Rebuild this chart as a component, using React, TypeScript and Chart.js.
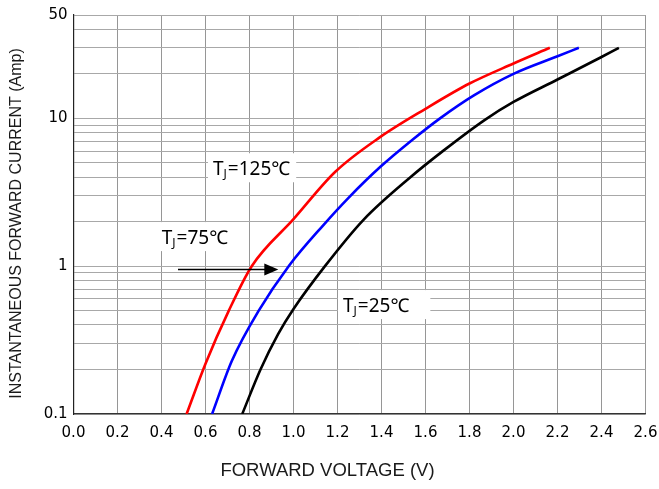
import { useEffect, useRef } from "react";
import { Chart, registerables } from "chart.js";

Chart.register(...registerables);

// ---- data ----
const voltage125 = [0.514, 0.6, 0.706, 0.81, 1.0, 1.19, 1.39, 1.6, 1.8, 2.0, 2.165];
const current125 = [0.1, 0.219, 0.5, 1, 2.08, 4.35, 7.4, 11.6, 17.2, 23.5, 30];

const voltage75 = [0.63, 0.72, 0.842, 0.978, 1.135, 1.25, 1.395, 1.545, 1.666, 1.82, 2.0, 2.2, 2.297];
const current75 = [0.1, 0.229, 0.5, 1, 1.89, 2.9, 4.7, 7.25, 10, 14.3, 20, 26.3, 30];

const voltage25 = [0.767, 0.85, 0.93, 1.0, 1.143, 1.317, 1.53, 1.683, 1.87, 2.0, 2.2, 2.4, 2.479];
const current25 = [0.1, 0.2, 0.347, 0.513, 1, 2.05, 3.98, 6.07, 9.77, 12.9, 18.3, 26.0, 30];

const seriesNames = ["TJ=125℃", "TJ=75℃", "TJ=25℃"];
const seriesColors = ["#ff0000", "#0000ff", "#000000"];

const xMin = 0;
const xMax = 2.6;
const xStep = 0.2;
const yMin = 0.1;
const yMax = 50;
const yGridValues = [
  0.1, 0.2, 0.3, 0.4, 0.5, 0.6, 0.7, 0.8, 0.9,
  1, 2, 3, 4, 5, 6, 7, 8, 9,
  10, 20, 30, 40, 50,
];
const yLabelValues = [0.1, 1, 10, 50];

const xTitle = "FORWARD VOLTAGE (V)";
const yTitle = "INSTANTANEOUS FORWARD CURRENT (Amp)";

// annotation anchors (left / baseline of text) in data units
const annotationTemps = ["125℃", "75℃", "25℃"];
const annotationV = [0.634, 0.401, 1.225];
const annotationI = [4.12, 1.41, 0.489];

// arrow: from V0 to V1 at current I
const arrowV = [0.475, 0.931];
const arrowI = 0.95;

const mainFont = '19px "Noto Sans", "DejaVu Sans", sans-serif';
const subFont = '12px "Noto Sans", "DejaVu Sans", sans-serif';
const boxRightPad = [6, 18, 21];

const toPoints = (xs: number[], ys: number[]) => xs.map((v, i) => ({ x: v, y: ys[i] }));

const annotationPlugin = {
  id: "annotationPlugin",
  beforeDatasetsDraw(chart: any) {
    const { ctx, scales } = chart;
    const xs = scales.x;
    const ys = scales.y;
    ctx.save();
    ctx.textBaseline = "alphabetic";
    ctx.textAlign = "left";
    for (let k = 0; k < annotationTemps.length; k++) {
      const px = xs.getPixelForValue(annotationV[k]);
      const py = ys.getPixelForValue(annotationI[k]);
      ctx.font = mainFont;
      const wT = ctx.measureText("T").width;
      const rest = "=" + annotationTemps[k];
      const wR = ctx.measureText(rest).width;
      ctx.font = subFont;
      const wJ = ctx.measureText("J").width;
      const total = wT + wJ + 1 + wR;
      ctx.fillStyle = "#ffffff";
      ctx.fillRect(px - 5, py - 22, total + 5 + boxRightPad[k], 29);
      ctx.fillStyle = "#000000";
      ctx.font = mainFont;
      ctx.fillText("T", px, py);
      ctx.font = subFont;
      ctx.fillText("J", px + wT, py + 3);
      ctx.font = mainFont;
      ctx.fillText(rest, px + wT + wJ + 1, py);
    }
    ctx.restore();
  },
  afterDatasetsDraw(chart: any) {
    const { ctx, scales } = chart;
    const xs = scales.x;
    const ys = scales.y;
    const x0 = xs.getPixelForValue(arrowV[0]);
    const x1 = xs.getPixelForValue(arrowV[1]);
    const yy = Math.round(ys.getPixelForValue(arrowI)) + 0.5;
    ctx.save();
    ctx.strokeStyle = "#000";
    ctx.fillStyle = "#000";
    ctx.lineWidth = 1.6;
    ctx.beginPath();
    ctx.moveTo(x0, yy);
    ctx.lineTo(x1 - 12, yy);
    ctx.stroke();
    ctx.beginPath();
    ctx.moveTo(x1, yy);
    ctx.lineTo(x1 - 14, yy - 6);
    ctx.lineTo(x1 - 14, yy + 6);
    ctx.closePath();
    ctx.fill();
    ctx.restore();
  },
  afterDraw(chart: any) {
    const { ctx, chartArea } = chart;
    ctx.save();
    ctx.fillStyle = "#1a1a1a";
    ctx.textAlign = "center";
    ctx.textBaseline = "middle";
    ctx.font = '18.5px "Liberation Sans", Arial, sans-serif';
    ctx.fillText(xTitle, chart.width / 2 - 2, 471);
    ctx.translate(17, (chartArea.top + chartArea.bottom) / 2 + 9);
    ctx.rotate(-Math.PI / 2);
    ctx.font = '16px "Liberation Sans", Arial, sans-serif';
    ctx.fillText(yTitle, 0, 0);
    ctx.restore();
  },
};

export default function App() {
  const canvasRef = useRef<HTMLCanvasElement | null>(null);

  useEffect(() => {
    const canvas = canvasRef.current;
    if (!canvas) return;
    const xSeries = [voltage125, voltage75, voltage25];
    const ySeries = [current125, current75, current25];
    const chart = new Chart(canvas, {
      type: "line",
      data: {
        datasets: seriesNames.map((name, i) => ({
          label: name,
          data: toPoints(xSeries[i], ySeries[i]),
          borderColor: seriesColors[i],
          backgroundColor: seriesColors[i],
          borderWidth: 2.6,
          pointRadius: 0,
          cubicInterpolationMode: "monotone",
          fill: false,
        })),
      },
      options: {
        responsive: false,
        animation: false,
        layout: { padding: { top: 15, right: 13.5, left: 0, bottom: 0 } },
        plugins: {
          legend: { display: false },
          tooltip: { enabled: false },
          title: { display: false },
        },
        scales: {
          x: {
            type: "linear",
            min: xMin,
            max: xMax,
            afterFit: (s: any) => {
              s.height = 75;
              s.paddingLeft = 0;
              s.paddingRight = 0;
            },
            ticks: {
              stepSize: xStep,
              padding: 10,
              color: "#000",
              font: { family: '"DejaVu Sans", sans-serif', size: 15 },
              callback: (v: any) => Number(v).toFixed(1),
              maxRotation: 0,
              autoSkip: false,
            },
            grid: { color: "#969696", lineWidth: 1, drawTicks: false },
            border: { color: "#333", width: 1.2 },
          },
          y: {
            type: "logarithmic",
            min: yMin,
            max: yMax,
            afterFit: (s: any) => {
              s.width = 73.5;
              s.paddingTop = 0;
              s.paddingBottom = 0;
            },
            afterBuildTicks: (s: any) => {
              s.ticks = yGridValues.map((v) => ({ value: v }));
            },
            ticks: {
              padding: 6,
              color: "#000",
              autoSkip: false,
              font: { family: '"DejaVu Sans", sans-serif', size: 15 },
              callback: (v: any) => (yLabelValues.includes(Number(v)) ? String(v) : ""),
            },
            grid: { color: "#a8a8a8", lineWidth: 1, drawTicks: false },
            border: { color: "#222", width: 1.2 },
          },
        },
      },
      plugins: [annotationPlugin],
    } as any);
    return () => chart.destroy();
  }, []);

  return (
    <div style={{ position: "fixed", left: 0, top: 0, width: 659, height: 489, background: "#fff" }}>
      <canvas ref={canvasRef} width={659} height={489} style={{ display: "block" }} />
    </div>
  );
}
